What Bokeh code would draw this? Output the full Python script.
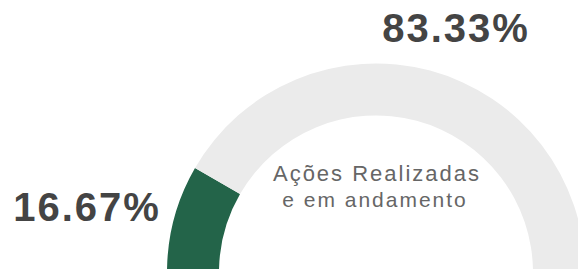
from bokeh.plotting import figure
from bokeh.models import Range1d, ColumnDataSource, InlineStyleSheet
from bokeh.embed import file_html
from bokeh.resources import INLINE
from bokeh.core.properties import value
import math

# data
categories = ["Ações Realizadas e em andamento", "Restante"]
percents = [16.67, 83.33]
labels = ["16.67%", "83.33%"]
colors = ["#236449", "#ebebeb"]
center_line1 = ["Ações Realizadas"]
center_line2 = ["e em andamento"]

# gauge: half donut, filled from the left (180 deg) clockwise
starts, ends = [], []
acc = 0.0
for pct in percents:
    a0 = math.pi - acc / 100.0 * math.pi
    acc += pct
    a1 = math.pi - acc / 100.0 * math.pi
    starts.append(a1)
    ends.append(a0)

W, H = 578, 269
CX, CY = 375.5, -3
src = ColumnDataSource(dict(start=starts, end=ends, color=colors, cat=categories))

css = InlineStyleSheet(css=":host { letter-spacing: 2px; }")

p = figure(width=W, height=H, output_backend="svg", toolbar_location=None,
           x_range=Range1d(0, W), y_range=Range1d(0, H), min_border=0,
           background_fill_color="white", border_fill_color="white",
           stylesheets=[css])
p.axis.visible = False
p.grid.visible = False
p.outline_line_color = None

p.annular_wedge(x=CX, y=CY, inner_radius=157, outer_radius=209,
                inner_radius_units="screen", outer_radius_units="screen",
                start_angle="start", end_angle="end", color="color",
                line_color=None, source=src)

lab_src = ColumnDataSource(dict(x=[80.5, 449.5], y=[63, 242], t=labels))
p.text(x="x", y="y", text="t", source=lab_src, text_font=value("Liberation Sans"),
       text_font_style="bold", text_font_size="40px", text_color="#444444",
       text_align="center", text_baseline="alphabetic")

c1 = ColumnDataSource(dict(x=[360.5], y=[96], t=center_line1))
p.text(x="x", y="y", text="t", source=c1, text_font=value("Liberation Sans"),
       text_font_size="22px", text_color="#666666",
       text_align="center", text_baseline="alphabetic")

c2 = ColumnDataSource(dict(x=[360.5], y=[70.5], t=center_line2))
p.text(x="x", y="y", text="t", source=c2, text_font=value("Liberation Sans"),
       text_font_size="21px", text_color="#666666",
       text_align="center", text_baseline="alphabetic")

open("out.html", "w").write(file_html(p, INLINE))
